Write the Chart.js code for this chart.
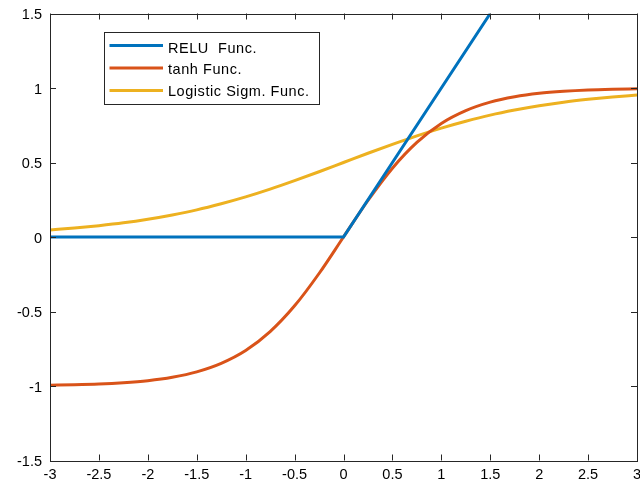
<!DOCTYPE html>
<html>
<head>
<meta charset="utf-8">
<script src="https://cdn.jsdelivr.net/npm/chart.js@4/dist/chart.umd.min.js"></script>
<style>
  html, body { margin: 0; padding: 0; background: #fff; }
  #wrap { width: 640px; height: 491px; }
</style>
</head>
<body>
<div id="wrap"><canvas id="chart" width="640" height="491"></canvas></div>
<script>
// values
const xs = [-3, -2.75, -2.5, -2.25, -2, -1.75, -1.5, -1.25, -1, -0.75, -0.5, -0.25,
            0, 0.25, 0.5, 0.75, 1, 1.25, 1.5, 1.75, 2, 2.25, 2.5, 2.75, 3];
const tanhVals = [-0.995, -0.992, -0.987, -0.978, -0.964, -0.941, -0.905, -0.848, -0.762, -0.635, -0.462, -0.245,
                  0, 0.245, 0.462, 0.635, 0.762, 0.848, 0.905, 0.941, 0.964, 0.978, 0.987, 0.992, 0.995];
const sigmVals = [0.047, 0.060, 0.076, 0.095, 0.119, 0.148, 0.182, 0.223, 0.269, 0.321, 0.378, 0.438,
                  0.5, 0.562, 0.622, 0.679, 0.731, 0.777, 0.818, 0.852, 0.881, 0.905, 0.924, 0.940, 0.953];
const reluX = [-3, 0, 1.5];
const reluVals = [0, 0, 1.5];

const xTicks = [-3, -2.5, -2, -1.5, -1, -0.5, 0, 0.5, 1, 1.5, 2, 2.5, 3];
const yTicks = [-1.5, -1, -0.5, 0, 0.5, 1, 1.5];

const seriesNames = ["RELU  Func.", "tanh Func.", "Logistic Sigm. Func."];
const seriesColors = ["#0072BD", "#D95319", "#EDB120"];

const pts = (x, y) => x.map((v, i) => ({ x: v, y: y[i] }));
const FONT = "'Liberation Sans', Arial, sans-serif";
const AXIS = "#262626";

// MATLAB-like box, inward ticks and legend
const boxPlugin = {
  id: "box",
  afterDraw(chart) {
    const { ctx, chartArea: a, scales: { x, y } } = chart;
    ctx.save();
    ctx.strokeStyle = AXIS;
    ctx.lineWidth = 1;
    ctx.beginPath();
    xTicks.forEach(t => {
      const px = Math.round(x.getPixelForValue(t)) + 0.5;
      ctx.moveTo(px, a.bottom); ctx.lineTo(px, a.bottom - 6);
      ctx.moveTo(px, a.top); ctx.lineTo(px, a.top + 6);
    });
    yTicks.forEach(t => {
      const py = Math.round(y.getPixelForValue(t)) + 0.5;
      ctx.moveTo(a.left, py); ctx.lineTo(a.left + 6, py);
      ctx.moveTo(a.right, py); ctx.lineTo(a.right - 6, py);
    });
    ctx.stroke();
    ctx.strokeRect(Math.round(a.left) + 0.5, Math.round(a.top) + 0.5,
                   Math.round(a.right - a.left), Math.round(a.bottom - a.top));

    // legend
    const lx = 104.5, ly = 32.5, lw = 215, lh = 72;
    ctx.fillStyle = "#fff";
    ctx.fillRect(lx, ly, lw, lh);
    ctx.strokeStyle = AXIS;
    ctx.strokeRect(lx, ly, lw, lh);
    ctx.font = "14.5px " + FONT;
    ctx.letterSpacing = "0.55px";
    ctx.textBaseline = "alphabetic";
    seriesNames.forEach((name, i) => {
      const ry = 45.5 + i * 22.5;
      ctx.strokeStyle = seriesColors[i];
      ctx.lineWidth = 3;
      ctx.beginPath();
      ctx.moveTo(109.5, ry); ctx.lineTo(163, ry);
      ctx.stroke();
      ctx.fillStyle = "#000";
      ctx.fillText(name, 168, 52.7 + i * 21.6);
    });
    ctx.restore();
  }
};

new Chart(document.getElementById("chart").getContext("2d"), {
  type: "line",
  data: {
    datasets: [
      { label: seriesNames[0], data: pts(reluX, reluVals), borderColor: seriesColors[0], tension: 0 },
      { label: seriesNames[1], data: pts(xs, tanhVals), borderColor: seriesColors[1], cubicInterpolationMode: "monotone" },
      { label: seriesNames[2], data: pts(xs, sigmVals), borderColor: seriesColors[2], cubicInterpolationMode: "monotone" }
    ]
  },
  options: {
    responsive: false,
    animation: false,
    layout: { padding: { top: 13.5, right: 3, left: 0, bottom: 0 } },
    elements: { point: { radius: 0 }, line: { borderWidth: 3, fill: false } },
    plugins: { legend: { display: false }, tooltip: { enabled: false } },
    scales: {
      x: {
        type: "linear", min: -3, max: 3,
        afterBuildTicks: s => { s.ticks = xTicks.map(v => ({ value: v })); },
        afterFit: s => { s.height = 30.5; s.paddingLeft = 0; s.paddingRight = 0; },
        grid: { display: false, drawTicks: false },
        border: { display: false },
        ticks: { padding: 6, color: "#000", font: { family: FONT, size: 14.5 }, maxRotation: 0, autoSkip: false,
                 callback: v => String(v) }
      },
      y: {
        type: "linear", min: -1.5, max: 1.5,
        afterBuildTicks: s => { s.ticks = yTicks.map(v => ({ value: v })); },
        afterFit: s => { s.width = 50; s.paddingTop = 0; s.paddingBottom = 0; },
        grid: { display: false, drawTicks: false },
        border: { display: false },
        ticks: { padding: 8, labelOffset: 1.5, color: "#000", font: { family: FONT, size: 14.5 }, autoSkip: false,
                 callback: v => String(v) }
      }
    }
  },
  plugins: [boxPlugin]
});
</script>
</body>
</html>
